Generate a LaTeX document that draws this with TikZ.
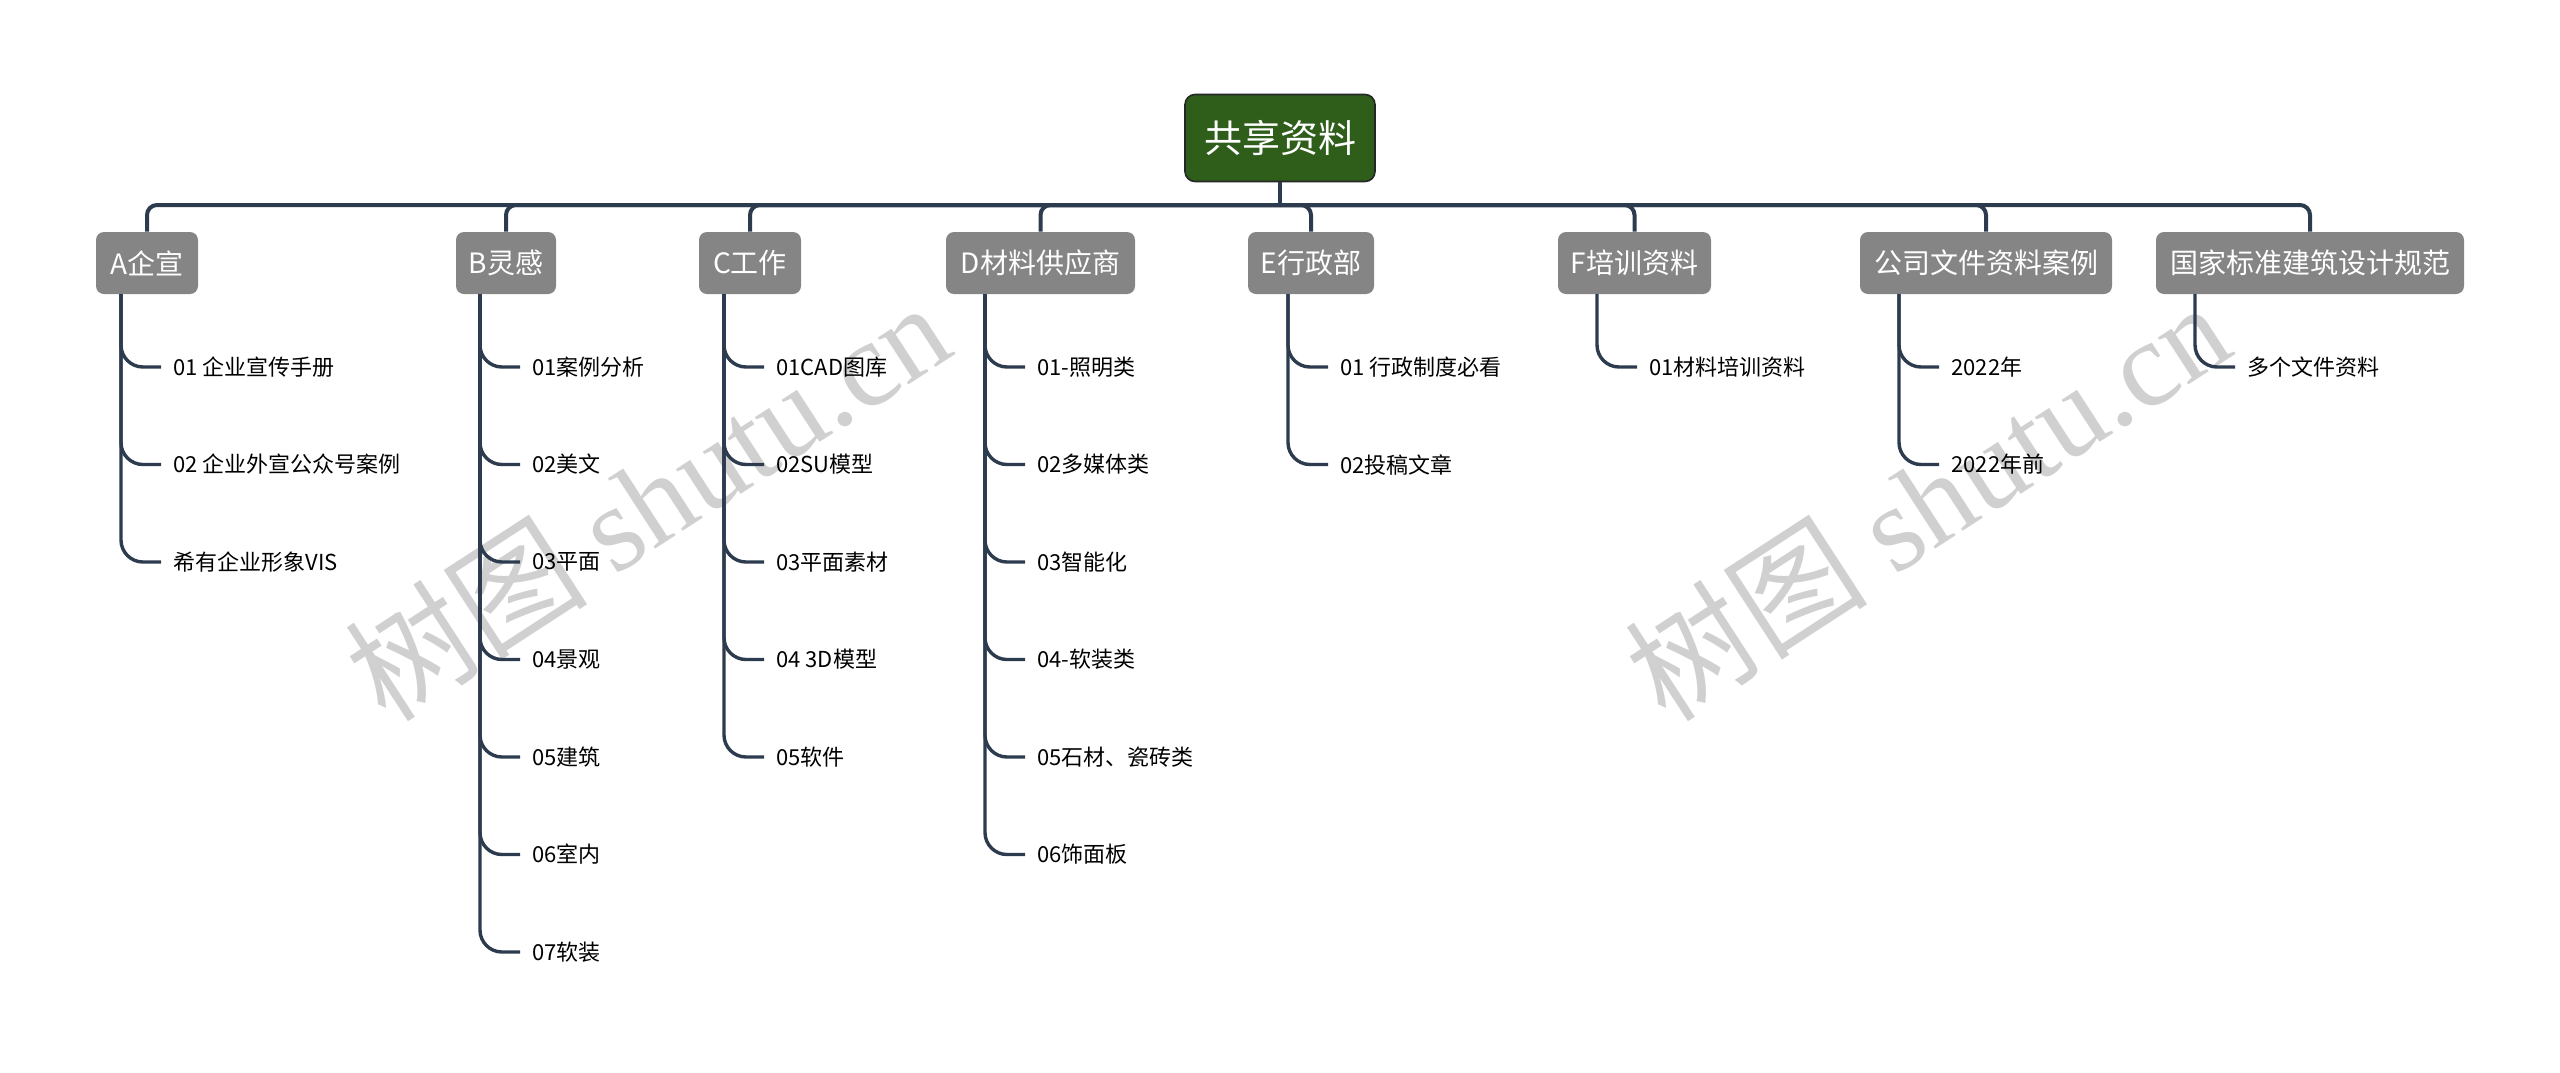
\documentclass[tikz,border=0pt]{standalone}
\usepackage{fontspec}
\setmainfont{Noto Sans CJK SC}
\newfontfamily\wmserif{Liberation Serif}
\definecolor{linec}{HTML}{2D3B4E}
\definecolor{boxg}{HTML}{858585}
\definecolor{rootg}{HTML}{2F5E1B}
\definecolor{wmc}{HTML}{D0D0D0}
\begin{document}
\begin{tikzpicture}[x=0.5pt,y=-0.5pt,
  rootbox/.style={draw=black!85, line width=0.8pt, fill=rootg, rounded corners=5pt, text=white,
    font=\fontsize{19}{19}\selectfont, minimum width=95pt, minimum height=43.5pt, inner sep=0pt},
  topic/.style={fill=boxg, rounded corners=4pt, text=white, font=\fontsize{14}{14}\selectfont,
    minimum height=31pt, inner sep=0pt},
  leaf/.style={anchor=west, inner sep=0pt, font=\fontsize{11}{11}\selectfont, text=black},
  bus/.style={draw=linec, line width=2pt, rounded corners=5pt},
  twig/.style={draw=linec, line width=1.7pt, rounded corners=11pt},
  wm/.style={text=wmc, rotate=33, inner sep=0pt, font=\fontsize{61}{61}\selectfont}]

\useasboundingbox (0,0) rectangle (2560,1072);

% watermarks
\node[wm] (wm1) at (647,500) {树图 {\wmserif shutu.cn}};
\node[wm] (wm2) at (1927,500) {树图 {\wmserif shutu.cn}};

% root
\node[rootbox] (root) at (1280,138) {共享资料};
\coordinate (hub) at (1280,205);
\draw[bus] (root.south) -- (hub);

% topics
\node[topic, minimum width=51pt]  (A) at (147,263)   {A企宣};
\node[topic, minimum width=50pt]  (B) at (506,263)   {B灵感};
\node[topic, minimum width=51pt]  (C) at (750,263)   {C工作};
\node[topic, minimum width=94.5pt] (D) at (1040.5,263) {D材料供应商};
\node[topic, minimum width=63pt]  (E) at (1311,263)  {E行政部};
\node[topic, minimum width=76.5pt] (F) at (1634.5,263) {F培训资料};
\node[topic, minimum width=126pt] (G) at (1986,263)  {公司文件资料案例};
\node[topic, minimum width=154pt] (H) at (2310,263)  {国家标准建筑设计规范};

\foreach \n in {A,B,C,D,E,F,G,H} {\draw[bus] (hub) -| (\n.north);}

% child stems
\coordinate (As) at (121,294);
\coordinate (Bs) at (480,294);
\coordinate (Cs) at (724,294);
\coordinate (Ds) at (985,294);
\coordinate (Es) at (1288,294);
\coordinate (Fs) at (1597,294);
\coordinate (Gs) at (1899,294);
\coordinate (Hs) at (2195,294);

\foreach \t [count=\i] in {01 企业宣传手册,02 企业外宣公众号案例,希有企业形象VIS} {
  \node[leaf] (A\i) at (173,{367+97.5*(\i-1)}) {\t};
  \draw[twig] (As) |- ([xshift=-6pt]A\i.west);
}
\foreach \t [count=\i] in {01案例分析,02美文,03平面,04景观,05建筑,06室内,07软装} {
  \node[leaf] (B\i) at (532,{367+97.5*(\i-1)}) {\t};
  \draw[twig] (Bs) |- ([xshift=-6pt]B\i.west);
}
\foreach \t [count=\i] in {01CAD图库,02SU模型,03平面素材,04 3D模型,05软件} {
  \node[leaf] (C\i) at (776,{367+97.5*(\i-1)}) {\t};
  \draw[twig] (Cs) |- ([xshift=-6pt]C\i.west);
}
\foreach \t [count=\i] in {01-照明类,02多媒体类,03智能化,04-软装类,05石材、瓷砖类,06饰面板} {
  \node[leaf] (D\i) at (1037,{367+97.5*(\i-1)}) {\t};
  \draw[twig] (Ds) |- ([xshift=-6pt]D\i.west);
}
\foreach \t [count=\i] in {01 行政制度必看,02投稿文章} {
  \node[leaf] (E\i) at (1340,{367+97.5*(\i-1)}) {\t};
  \draw[twig] (Es) |- ([xshift=-6pt]E\i.west);
}
\foreach \t [count=\i] in {01材料培训资料} {
  \node[leaf] (F\i) at (1649,{367+97.5*(\i-1)}) {\t};
  \draw[twig] (Fs) |- ([xshift=-6pt]F\i.west);
}
\foreach \t [count=\i] in {2022年,2022年前} {
  \node[leaf] (G\i) at (1951,{367+97.5*(\i-1)}) {\t};
  \draw[twig] (Gs) |- ([xshift=-6pt]G\i.west);
}
\foreach \t [count=\i] in {多个文件资料} {
  \node[leaf] (H\i) at (2247,{367+97.5*(\i-1)}) {\t};
  \draw[twig] (Hs) |- ([xshift=-6pt]H\i.west);
}
\end{tikzpicture}
\end{document}
